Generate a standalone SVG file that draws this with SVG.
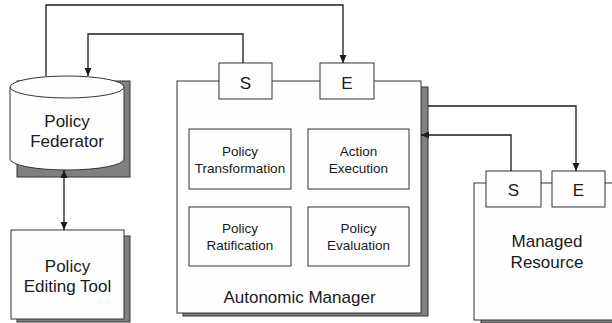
<svg xmlns="http://www.w3.org/2000/svg" width="612" height="323" viewBox="0 0 612 323">
<style>
.box{fill:#fefefe;stroke:#333;stroke-width:1}
.sh{fill:#808080;stroke:#333;stroke-width:1}
.t{font-family:"Liberation Sans",Arial,sans-serif;fill:#1a1a1a;text-anchor:middle}
.l{font-size:17px}
.s{font-size:13.5px}
.c{fill:none;stroke:#1a1a1a;stroke-width:1.3}
</style>
<defs>
<marker id="ah" markerUnits="userSpaceOnUse" markerWidth="9" markerHeight="8" refX="8" refY="3.5" orient="auto-start-reverse">
<path d="M0,0 L8,3.5 L0,7 Z" fill="#1a1a1a"/>
</marker>
</defs>
<rect width="612" height="323" fill="#fff"/>
<g id="policy-federator">
<rect class="sh" x="17" y="81" width="113" height="96"/>
<path class="box" d="M10,87 L10,159 A57,11 0 0 0 124,159 L124,87 Z"/>
<ellipse class="box" cx="67" cy="87" rx="57" ry="11"/>
<text class="t l" x="67" y="127">Policy</text>
<text class="t l" x="67" y="147">Federator</text>
</g>
<g id="policy-editing-tool">
<rect class="sh" x="17" y="236" width="113" height="86"/>
<rect class="box" x="11" y="230" width="113" height="89"/>
<text class="t l" x="67.5" y="272">Policy</text>
<text class="t l" x="67.5" y="292">Editing Tool</text>
</g>
<g id="autonomic-manager">
<rect class="sh" x="183" y="87" width="245" height="229"/>
<rect class="box" x="177" y="81" width="244" height="232"/>
<text class="t l" x="299.5" y="303">Autonomic Manager</text>
</g>
<g id="am-s">
<rect class="box" x="219" y="63" width="53" height="36"/>
<text class="t l" x="245.5" y="88.5">S</text>
</g>
<g id="am-e">
<rect class="box" x="320" y="63" width="54" height="36"/>
<text class="t l" x="347" y="88.5">E</text>
</g>
<g id="policy-transformation">
<rect class="box" x="189" y="129" width="102" height="60"/>
<text class="t s" x="240" y="156">Policy</text>
<text class="t s" x="240" y="173">Transformation</text>
</g>
<g id="action-execution">
<rect class="box" x="308" y="129" width="101" height="60"/>
<text class="t s" x="358.5" y="156">Action</text>
<text class="t s" x="358.5" y="173">Execution</text>
</g>
<g id="policy-ratification">
<rect class="box" x="189" y="207" width="102" height="59"/>
<text class="t s" x="240" y="233">Policy</text>
<text class="t s" x="240" y="250">Ratification</text>
</g>
<g id="policy-evaluation">
<rect class="box" x="308" y="207" width="101" height="59"/>
<text class="t s" x="358.5" y="233">Policy</text>
<text class="t s" x="358.5" y="250">Evaluation</text>
</g>
<g id="managed-resource">
<rect class="sh" x="481" y="189" width="140" height="134"/>
<rect class="box" x="474" y="183" width="150" height="137"/>
<text class="t l" x="547" y="247">Managed</text>
<text class="t l" x="547" y="268">Resource</text>
</g>
<g id="mr-s">
<rect class="box" x="486" y="171" width="55" height="36"/>
<text class="t l" x="513.5" y="196">S</text>
</g>
<g id="mr-e">
<rect class="box" x="552" y="171" width="53" height="36"/>
<text class="t l" x="578.5" y="196">E</text>
</g>
<g id="connectors">
<polyline class="c" points="46,76 46,5 343,5 343,63" marker-end="url(#ah)"/>
<polyline class="c" points="243,63 243,34 88,34 88,76" marker-end="url(#ah)"/>
<line class="c" x1="64" y1="170" x2="64" y2="230" marker-start="url(#ah)" marker-end="url(#ah)"/>
<polyline class="c" points="428,106 576,106 576,171" marker-end="url(#ah)"/>
<polyline class="c" points="511,171 511,135 421,135" marker-end="url(#ah)"/>
</g>
</svg>
